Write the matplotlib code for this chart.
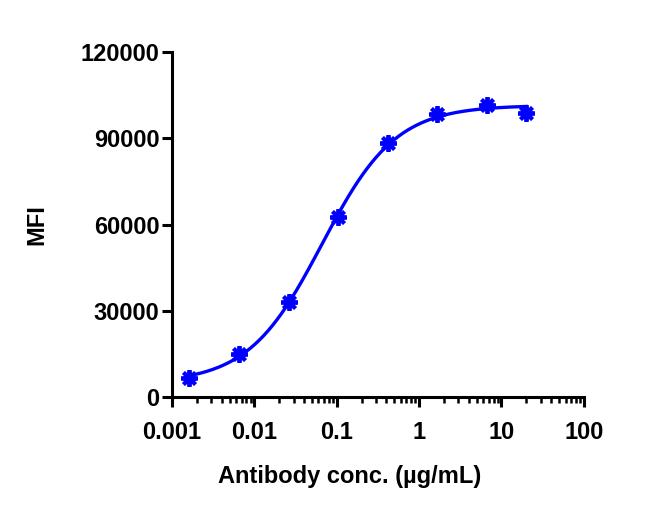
import numpy as np
import matplotlib
matplotlib.use("Agg")
import matplotlib.pyplot as plt
from matplotlib.ticker import LogLocator, FixedLocator, NullFormatter

plt.rcParams['font.family'] = ['Liberation Sans Narrow', 'Liberation Sans', 'DejaVu Sans']
plt.rcParams['font.weight'] = 'bold'

# antibody concentrations (ug/mL) and measured MFI
conc = [0.001628, 0.00651, 0.02604, 0.1042, 0.4167, 1.667, 6.667, 20.0]
mfi = [6600, 15000, 33000, 62600, 88300, 98400, 101500, 98800]

x_ticks = [0.001, 0.01, 0.1, 1, 10, 100]
x_labels = ['0.001', '0.01', '0.1', '1', '10', '100']
y_ticks = [0, 30000, 60000, 90000, 120000]

blue = '#0000ff'


def fit_4pl(x, y):
    # grid over EC50 / hill, bottom & top solved linearly
    lx = np.log10(x)
    y = np.asarray(y, float)
    best = None
    for lec in np.linspace(-2, 0, 201):
        for h in np.linspace(0.5, 2.0, 151):
            f = 1.0 / (1.0 + 10 ** ((lec - lx) * h))
            A = np.column_stack([1 - f, f])
            coef, *_ = np.linalg.lstsq(A, y, rcond=None)
            err = np.sum((A @ coef - y) ** 2)
            if best is None or err < best[0]:
                best = (err, coef[0], coef[1], lec, h)
    return best[1:]


bottom, top, lec50, hill = fit_4pl(conc, mfi)
xs = np.logspace(np.log10(conc[0]), np.log10(conc[-1]), 300)
ys = bottom + (top - bottom) / (1 + 10 ** ((lec50 - np.log10(xs)) * hill))

fig = plt.figure(figsize=(6.59, 5.18), dpi=100)
ax = fig.add_axes([0.261, 0.2336, 0.625, 0.666])

ax.plot(xs, ys, color=blue, lw=2.4, zorder=2)
ax.plot(conc, mfi, ls='none', marker=(8, 2, 0), ms=12, mew=2.8, color=blue, zorder=3)
ax.plot(conc, mfi, ls='none', marker='o', ms=3.5, color=blue, zorder=3)

ax.set_xscale('log')
ax.set_xlim(0.001, 100)
ax.set_ylim(0, 120000)
ax.xaxis.set_major_locator(FixedLocator(x_ticks))
ax.set_xticklabels(x_labels)
ax.xaxis.set_minor_locator(LogLocator(base=10, subs=np.arange(2, 10)))
ax.xaxis.set_minor_formatter(NullFormatter())
ax.set_yticks(y_ticks)
ax.set_yticklabels([str(v) for v in y_ticks])

for side in ['top', 'right']:
    ax.spines[side].set_visible(False)
for side in ['left', 'bottom']:
    ax.spines[side].set_linewidth(2.2)

ax.tick_params(which='major', direction='out', length=7, width=2.2, labelsize=17)
ax.tick_params(axis='x', which='major', pad=10)
ax.tick_params(axis='y', which='major', pad=2)
ax.tick_params(which='minor', direction='out', length=4, width=1.8)

ax.set_xlabel('Antibody conc. (µg/mL)', fontsize=17, fontweight='bold')
ax.xaxis.set_label_coords(0.432, -0.198)
ax.set_ylabel('MFI', fontsize=17, fontweight='bold')
ax.yaxis.set_label_coords(-0.30, 0.5)

fig.savefig('out.png', dpi=100)
